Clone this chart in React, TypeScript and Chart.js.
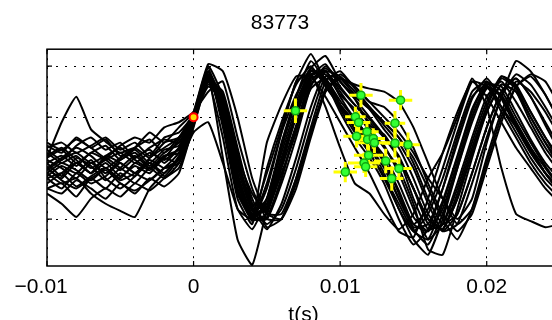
import React, { useEffect, useRef } from 'react';
import { Chart, registerables } from 'chart.js';

Chart.register(...registerables);

const chartTitle = '83773';
const xAxisLabel = 't(s)';
const xTickValues = [-0.01, 0, 0.01, 0.02];
const xTickLabels = ['\u22120.01  ', '0', '0.01', '0.02'];
const yTickValues = [-0.5, 0, 0.5, 1];
const xMin = -0.01;
const xMax = 0.025;
const yMin = -0.961;
const yMax = 1.167;

const timeS = [
  -0.010, -0.009, -0.008, -0.007, -0.006, -0.005, -0.004, -0.003, -0.002, -0.001, 0.000,
  0.001, 0.002, 0.003, 0.004, 0.005, 0.006, 0.007, 0.008, 0.009, 0.010,
  0.011, 0.012, 0.013, 0.014, 0.015, 0.016, 0.017, 0.018, 0.019, 0.020,
  0.021, 0.022, 0.023, 0.024, 0.025,
];

const trace01 = [0.05,0.12,0.02,0.15,0.08,-0.02,0.10,0.18,0.05,0.20,0.50, 0.92,0.55,-0.15,-0.48,-0.35,0.10,0.55,0.92,0.95,0.78,0.62,0.48,0.30,0.10,-0.20,-0.50,-0.60,-0.30,0.15,0.55,0.82,0.75,0.45,0.20,0.00];
const trace02 = [-0.10,-0.05,-0.18,-0.08,0.00,-0.12,-0.05,0.05,-0.08,0.10,0.48, 0.95,0.40,-0.30,-0.55,0.00,0.45,0.82,1.00,0.80,0.60,0.40,0.20,-0.05,-0.40,-0.62,-0.45,-0.10,0.35,0.75,0.85,0.60,0.35,0.10,-0.10,-0.25];
const trace03 = [0.20,0.25,0.15,0.22,0.30,0.18,0.25,0.12,0.30,0.35,0.52, 0.85,0.75,0.20,-0.35,-0.55,-0.40,0.00,0.50,0.90,0.88,0.72,0.58,0.38,0.20,-0.10,-0.45,-0.62,-0.45,-0.05,0.40,0.75,0.88,0.70,0.45,0.20];
const trace04 = [0.00,-0.10,0.05,-0.05,0.10,0.00,-0.08,0.10,0.20,0.30,0.55, 1.02,0.95,0.50,-0.10,-0.45,-0.50,-0.20,0.30,0.75,0.92,0.80,0.65,0.50,0.35,0.15,-0.10,-0.30,-0.50,-0.30,0.25,0.70,1.05,0.95,0.72,0.45];
const trace05 = [-0.20,-0.15,-0.28,-0.10,-0.20,-0.05,-0.15,0.00,-0.10,0.05,0.45, 0.90,0.10,-0.70,-0.95,-0.40,0.20,0.70,1.05,0.85,0.55,0.30,0.10,-0.15,-0.50,-0.75,-0.60,-0.20,0.30,0.70,0.82,0.55,0.30,0.05,-0.15,-0.30];
const trace06 = [0.10,0.45,0.70,0.38,0.26,0.15,0.20,0.10,0.25,0.30,0.50, 0.80,0.65,0.05,-0.40,-0.50,-0.15,0.30,0.80,1.00,0.85,0.68,0.42,0.33,0.10,-0.20,-0.55,-0.60,-0.30,0.15,0.60,0.90,0.80,0.55,0.30,0.05];
const trace07 = [-0.25,-0.35,-0.48,-0.30,-0.20,-0.28,-0.15,-0.22,-0.10,0.00,0.40, 0.88,0.60,-0.10,-0.50,-0.45,0.00,0.42,0.88,0.92,0.72,0.58,0.36,0.22,-0.05,-0.40,-0.70,-0.55,-0.15,0.30,0.70,0.85,0.65,0.40,0.15,-0.05];
const trace08 = [-0.05,-0.15,-0.10,-0.25,-0.35,-0.42,-0.48,-0.20,-0.05,0.10,0.45, 0.90,0.50,-0.20,-0.45,-0.30,0.15,0.60,0.95,0.88,0.62,0.45,0.22,0.08,-0.25,-0.60,-0.75,-0.45,0.00,0.45,0.78,0.72,0.45,0.20,0.00,-0.20];
const trace09 = [0.15,0.05,0.12,0.00,0.08,0.15,0.05,0.15,0.08,0.20,0.50, 0.95,0.45,-0.25,-0.50,-0.20,0.35,0.85,0.92,0.60,0.20,-0.15,-0.25,-0.45,-0.60,-0.45,-0.10,0.15,0.50,0.88,0.60,0.00,-0.45,-0.52,-0.58,-0.55];
const trace10 = [0.25,0.18,0.28,0.20,0.10,0.22,0.30,0.25,0.40,0.45,0.55, 0.75,0.85,0.30,-0.20,-0.50,-0.50,-0.10,0.40,0.85,0.95,0.78,0.60,0.45,0.30,0.10,-0.20,-0.50,-0.70,-0.40,0.10,0.55,0.85,0.75,0.55,0.30];
const trace11 = [0.08,0.00,-0.10,0.05,-0.05,0.08,0.15,0.02,0.15,0.25,0.50, 0.98,0.50,-0.25,-0.45,-0.05,0.40,0.85,1.12,0.85,0.62,0.45,0.28,0.05,-0.30,-0.55,-0.40,0.00,0.45,0.85,0.80,0.60,0.40,0.15,-0.05,-0.20];
const trace12 = [-0.15,-0.05,0.05,-0.05,0.12,0.05,-0.05,-0.12,0.00,0.15,0.50, 0.90,0.60,0.00,-0.42,-0.42,-0.05,0.35,0.85,0.98,0.85,0.70,0.58,0.45,0.30,0.05,-0.30,-0.55,-0.45,-0.05,0.40,0.75,0.88,0.70,0.42,0.15];
const trace13 = [0.00,0.10,0.20,0.12,0.00,0.10,0.20,0.28,0.15,0.30,0.50, 0.82,0.70,0.10,-0.38,-0.60,-0.35,0.10,0.60,0.95,0.90,0.75,0.60,0.42,0.25,0.00,-0.35,-0.62,-0.55,-0.15,0.30,0.70,0.92,0.82,0.60,0.35];
const trace14 = [-0.20,-0.25,-0.12,-0.20,-0.30,-0.15,-0.25,-0.10,-0.18,-0.05,0.42, 0.85,0.30,-0.40,-0.50,0.25,0.62,0.90,0.90,0.70,0.45,0.20,-0.05,-0.35,-0.62,-0.68,-0.30,0.15,0.55,0.85,0.70,0.45,0.20,0.00,-0.20,-0.35];
const trace15 = [0.18,0.08,0.22,0.30,0.18,0.25,0.10,0.20,0.28,0.25,0.52, 0.95,0.65,-0.05,-0.45,-0.38,0.05,0.50,0.90,1.02,0.80,0.62,0.45,0.30,0.12,-0.20,-0.50,-0.60,-0.25,0.20,0.60,0.88,0.78,0.50,0.25,0.05];
const trace16 = [-0.08,0.02,-0.05,0.08,-0.10,-0.20,-0.08,0.05,-0.05,0.12,0.48, 0.88,0.72,0.15,-0.30,-0.58,-0.50,-0.15,0.35,0.78,0.88,0.80,0.65,0.60,0.45,0.20,-0.15,-0.45,-0.62,-0.45,0.00,0.45,0.80,0.92,0.85,0.60];
const trace17 = [0.12,0.20,0.08,-0.05,0.05,-0.08,0.02,-0.05,0.10,0.05,0.46, 0.88,0.55,-0.12,-0.50,-0.48,-0.10,0.40,0.78,0.88,0.62,0.38,0.15,-0.08,-0.35,-0.62,-0.70,-0.35,0.10,0.55,0.85,0.70,0.42,0.18,-0.05,-0.22];
const trace18 = [-0.10,-0.20,-0.05,-0.15,-0.08,0.05,-0.05,0.08,0.00,0.05,0.35, 0.45,0.05,-0.40,-0.60,-0.30,0.20,0.65,0.95,0.85,0.58,0.35,0.15,-0.10,-0.40,-0.70,-0.85,-0.50,0.00,0.50,0.80,0.70,0.45,0.20,-0.05,-0.25];
const trace19 = [0.22,0.15,0.30,0.20,0.28,0.12,0.20,0.35,0.25,0.40,0.55, 1.00,0.70,0.05,-0.35,-0.35,0.05,0.55,0.98,1.10,0.85,0.68,0.50,0.32,0.10,-0.30,-0.60,-0.55,-0.20,0.25,0.65,0.90,0.82,0.55,0.30,0.10];
const trace20 = [-0.05,0.05,-0.02,-0.12,0.00,-0.10,0.05,-0.02,0.12,0.15,0.50, 0.92,0.45,-0.20,-0.52,-0.30,0.25,0.70,0.98,0.82,0.60,0.42,0.22,0.00,-0.30,-0.58,-0.55,-0.20,0.25,0.68,0.88,0.68,0.40,0.15,-0.05,-0.22];
const trace21 = [0.05,-0.08,0.10,0.02,-0.12,0.00,0.12,0.00,0.10,0.28,0.50, 0.90,0.62,-0.05,-0.50,-0.50,-0.10,0.40,0.82,0.95,0.75,0.55,0.40,0.20,0.00,-0.35,-0.80,-0.85,-0.40,0.10,0.55,0.82,0.75,0.50,0.25,0.00];
const trace22 = [0.10,0.18,0.05,0.15,0.22,0.08,0.18,0.05,0.18,0.22,0.50, 0.86,0.68,0.10,-0.25,-0.45,-0.45,-0.10,0.35,0.75,0.88,0.82,0.78,0.75,0.65,0.40,0.05,-0.30,-0.55,-0.40,0.05,0.50,0.80,0.90,0.72,0.45];
const trace23 = [-0.02,0.08,0.15,0.05,0.12,0.20,0.08,0.00,0.12,0.18,0.48, 0.94,0.58,-0.08,-0.46,-0.40,0.02,0.52,0.90,0.96,0.70,0.48,0.30,0.12,-0.15,-0.48,-0.62,-0.40,0.05,0.50,0.82,0.80,0.55,0.28,0.05,-0.12];
const trace24 = [0.00,-0.12,-0.20,-0.10,-0.02,-0.15,-0.22,-0.12,0.00,0.08,0.46, 0.90,0.48,-0.22,-0.50,-0.15,0.35,0.72,0.96,0.88,0.66,0.48,0.30,0.08,-0.22,-0.55,-0.62,-0.32,0.12,0.58,0.84,0.76,0.50,0.25,0.02,-0.18];

const traces = [
  trace01, trace02, trace03, trace04, trace05, trace06, trace07, trace08,
  trace09, trace10, trace11, trace12, trace13, trace14, trace15, trace16,
  trace17, trace18, trace19, trace20, trace21, trace22, trace23, trace24,
];

const crossT = [0.00695,0.01142,0.01412,0.01104,0.01126,0.01374,0.01183,0.01112,0.01187,0.01226,0.01234,0.01374,0.01463,0.01194,0.01311,0.01163,0.01174,0.01401,0.01035,0.01352];
const crossV = [0.562,0.716,0.667,0.503,0.448,0.441,0.356,0.312,0.281,0.291,0.248,0.245,0.230,0.125,0.069,0.051,0.013,-0.005,-0.039,-0.103];
const crossTErr = [0.0008,0.0008,0.0008,0.0007,0.0008,0.0007,0.0008,0.0009,0.0007,0.0008,0.0013,0.0009,0.0008,0.0010,0.0008,0.0011,0.0008,0.0009,0.0008,0.0008];
const crossVErr = [0.12,0.12,0.10,0.10,0.11,0.12,0.10,0.11,0.10,0.10,0.10,0.14,0.12,0.10,0.12,0.10,0.10,0.11,0.10,0.12];

const onsetT = [0];
const onsetV = [0.5];

const FONT = "'Liberation Sans', Arial, Helvetica, sans-serif";

const crossPlugin = {
  id: 'crossBars',
  beforeDatasetDraw(chart: any, args: any) {
    const ds = chart.data.datasets[args.index];
    if (!ds || ds.label !== 'peaks') return;
    const { ctx, scales } = chart;
    const x = scales.x;
    const y = scales.y;
    ctx.save();
    ctx.strokeStyle = '#ffff00';
    ctx.lineWidth = 3;
    crossT.forEach((t, i) => {
      const v = crossV[i];
      const px = x.getPixelForValue(t);
      const py = y.getPixelForValue(v);
      ctx.beginPath();
      ctx.moveTo(x.getPixelForValue(t - crossTErr[i]), py);
      ctx.lineTo(x.getPixelForValue(t + crossTErr[i]), py);
      ctx.moveTo(px, y.getPixelForValue(v - crossVErr[i]));
      ctx.lineTo(px, y.getPixelForValue(v + crossVErr[i]));
      ctx.stroke();
    });
    ctx.restore();
  },
};

const framePlugin = {
  id: 'frameTicks',
  afterDraw(chart: any) {
    const { ctx, chartArea, scales } = chart;
    const { left, top, right, bottom } = chartArea;
    ctx.save();
    ctx.strokeStyle = '#000';
    ctx.lineWidth = 1.5;
    ctx.strokeRect(left, top, right - left, bottom - top);
    ctx.lineWidth = 1.2;
    ctx.beginPath();
    xTickValues.forEach((v) => {
      const px = scales.x.getPixelForValue(v);
      ctx.moveTo(px, bottom);
      ctx.lineTo(px, bottom - 5);
      ctx.moveTo(px, top);
      ctx.lineTo(px, top + 5);
    });
    yTickValues.forEach((v) => {
      const py = scales.y.getPixelForValue(v);
      ctx.moveTo(left, py);
      ctx.lineTo(left + 5, py);
    });
    ctx.stroke();
    ctx.restore();
  },
};

export default function App() {
  const canvasRef = useRef<HTMLCanvasElement | null>(null);

  useEffect(() => {
    document.body.style.margin = '0';
    document.body.style.overflow = 'hidden';
    document.documentElement.style.overflow = 'hidden';
    const canvas = canvasRef.current;
    if (!canvas) return;

    const lineSets = traces.map((tr, k) => ({
      type: 'line' as const,
      label: 'trace' + (k + 1),
      data: timeS.map((t, i) => ({ x: t, y: tr[i] })),
      borderColor: '#000000',
      borderWidth: 2,
      pointRadius: 0,
      tension: 0.15,
      fill: false,
      order: 10,
    }));

    const chart = new Chart(canvas, {
      type: 'line',
      data: {
        datasets: [
          ...lineSets,
          {
            type: 'scatter' as const,
            label: 'peaks',
            data: crossT.map((t, i) => ({ x: t, y: crossV[i] })),
            pointRadius: 4,
            pointBackgroundColor: '#33ff33',
            pointBorderColor: '#10a810',
            pointBorderWidth: 1.5,
            showLine: false,
            order: 2,
          },
          {
            type: 'scatter' as const,
            label: 'onset',
            data: onsetT.map((t, i) => ({ x: t, y: onsetV[i] })),
            pointRadius: 4,
            pointBackgroundColor: '#ffdd00',
            pointBorderColor: '#ff0000',
            pointBorderWidth: 2,
            showLine: false,
            order: 1,
          },
        ] as any,
      },
      options: {
        responsive: false,
        animation: false,
        devicePixelRatio: 1,
        layout: { padding: { left: 0, right: 48, top: 0, bottom: 0 } },
        plugins: {
          legend: { display: false },
          tooltip: { enabled: false },
          title: {
            display: true,
            text: chartTitle,
            color: '#000',
            font: { family: FONT, size: 21, weight: 'normal' },
            padding: { top: 11, bottom: 13 },
          },
        },
        scales: {
          x: {
            type: 'linear',
            min: xMin,
            max: xMax,
            afterBuildTicks: (s: any) => {
              s.ticks = xTickValues.map((v) => ({ value: v }));
            },
            afterFit: (s: any) => {
              s.height = 64;
            },
            ticks: {
              autoSkip: false,
              maxRotation: 0,
              padding: 9,
              color: '#000',
              font: { family: FONT, size: 21 },
              callback: (v: any) => {
                const idx = xTickValues.findIndex((tv) => Math.abs(tv - Number(v)) < 1e-9);
                return idx >= 0 ? xTickLabels[idx] : '';
              },
            },
            grid: { color: '#000', lineWidth: 1, drawTicks: false },
            border: { display: false, dash: [2, 7] },
            title: {
              display: true,
              text: xAxisLabel,
              color: '#000',
              font: { family: FONT, size: 21 },
              padding: { top: 0, bottom: 2 },
            },
          },
          y: {
            type: 'linear',
            min: yMin,
            max: yMax,
            afterBuildTicks: (s: any) => {
              s.ticks = yTickValues.map((v) => ({ value: v }));
            },
            afterFit: (s: any) => {
              s.width = 47;
            },
            ticks: { display: false },
            grid: { color: '#000', lineWidth: 1, drawTicks: false },
            border: { display: false, dash: [2, 7] },
          },
        },
      } as any,
      plugins: [crossPlugin, framePlugin],
    });

    return () => {
      chart.destroy();
    };
  }, []);

  return (
    <div style={{ position: 'absolute', left: 0, top: 0, width: 608, height: 330, overflow: 'hidden' }}>
      <canvas ref={canvasRef} width={608} height={330} style={{ display: 'block' }} />
    </div>
  );
}
